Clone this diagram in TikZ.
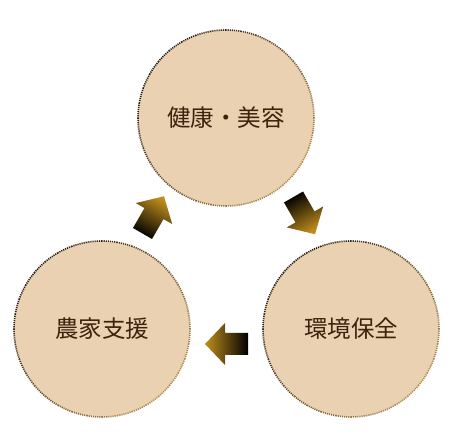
\documentclass[tikz,border=0pt]{standalone}
\usepackage{fontspec}
\newfontfamily\cjkfont{Noto Sans CJK JP}
\usetikzlibrary{calc}
\definecolor{circfill}{HTML}{E9D1B1}
\definecolor{txtbrown}{HTML}{3E220C}
\definecolor{rimdark}{HTML}{1E1610}
\definecolor{rimgold}{HTML}{B08A4C}
\definecolor{arrgold}{HTML}{C08E1E}
\tikzset{
  circ/.style={circle, fill=circfill, minimum size=176pt, inner sep=0pt,
    font=\cjkfont\fontsize{23.5}{23.5}\selectfont, text=txtbrown},
  rim/.style={line width=1.6pt, dash pattern=on 1.1pt off 1.0pt},
  blockarrow/.style={draw=none}
}
\begin{document}
\begin{tikzpicture}[x=1pt,y=1pt]
\useasboundingbox[fill=white] (0,0) rectangle (450,446);
\node[circ] (c1) at (226,328) {健康・美容};
\node[circ] (c2) at (102,117) {農家支援};
\node[circ] (c3) at (351,117) {環境保全};
\foreach \c in {c1,c2,c3}{
  \foreach \a in {0,10,...,350}{
    \pgfmathtruncatemacro\w{50*(1+cos(\a-135))}
    \draw[rim, color=rimdark!\w!rimgold] ($(\c.center)+(\a:88)$) arc[start angle=\a, end angle=\a+10, radius=88];
  }
}
\coordinate (t1) at (142.5,212.5);
\coordinate (t2) at (293.5,249);
\coordinate (t3) at (248,102);
\foreach \t/\p in {t1/60, t2/-60, t3/180}{
  \pgfmathsetmacro\sa{\p-90}
  \shade[blockarrow, top color=arrgold, bottom color=black, shading angle=\sa]
    ($(\t)+(\p+90:11)$) -- ($(\t)+(\p+90:11)+(\p:23)$) -- ($(\t)+(\p+90:21)+(\p:23)$)
    -- ($(\t)+(\p:43)$) -- ($(\t)+(\p-90:21)+(\p:23)$) -- ($(\t)+(\p-90:11)+(\p:23)$)
    -- ($(\t)+(\p-90:11)$) -- cycle;
}
\end{tikzpicture}
\end{document}
